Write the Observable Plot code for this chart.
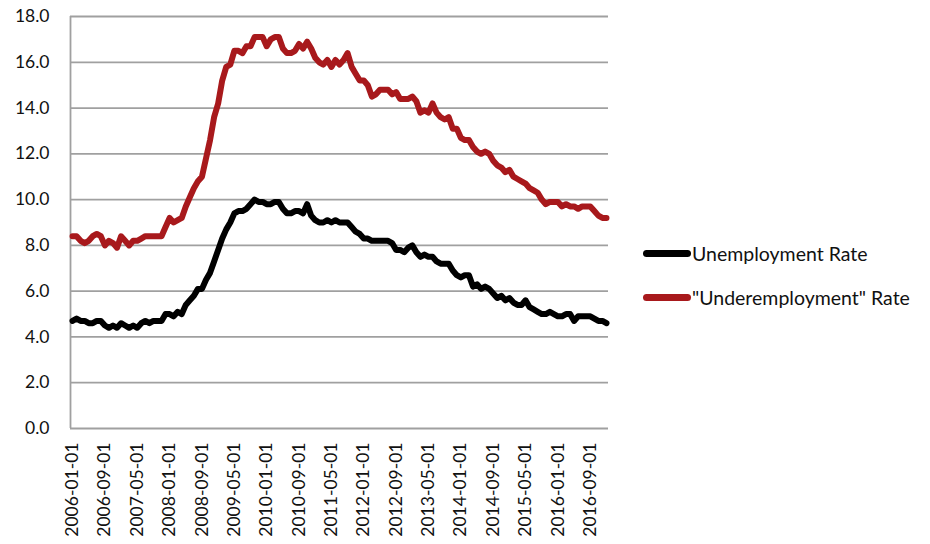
<!DOCTYPE html>
<html><head><meta charset="utf-8">
<script src="https://cdn.jsdelivr.net/npm/d3@7"></script>
<script src="https://cdn.jsdelivr.net/npm/@observablehq/plot@0.6"></script>
<style>
body{margin:0;background:#fff;font-family:Lato,sans-serif}
#wrap{position:relative;width:930px;height:544px}
.leg{position:absolute;left:643px;display:flex;align-items:center;font-size:19.5px;color:#111;font-family:Lato,sans-serif;white-space:nowrap}
.sw{width:48px;height:7px;border-radius:4px;margin-right:1px}
</style></head><body><div id="wrap"></div>
<script>
// Monthly, 2006-01 through 2017-01
const startYear = 2006;
const unemployment = [
 4.7,4.8,4.7,4.7,4.6,4.6,4.7,4.7,4.5,4.4,4.5,4.4,
 4.6,4.5,4.4,4.5,4.4,4.6,4.7,4.6,4.7,4.7,4.7,5.0,
 5.0,4.9,5.1,5.0,5.4,5.6,5.8,6.1,6.1,6.5,6.8,7.3,
 7.8,8.3,8.7,9.0,9.4,9.5,9.5,9.6,9.8,10.0,9.9,9.9,
 9.8,9.8,9.9,9.9,9.6,9.4,9.4,9.5,9.5,9.4,9.8,9.3,
 9.1,9.0,9.0,9.1,9.0,9.1,9.0,9.0,9.0,8.8,8.6,8.5,
 8.3,8.3,8.2,8.2,8.2,8.2,8.2,8.1,7.8,7.8,7.7,7.9,
 8.0,7.7,7.5,7.6,7.5,7.5,7.3,7.2,7.2,7.2,6.9,6.7,
 6.6,6.7,6.7,6.2,6.3,6.1,6.2,6.1,5.9,5.7,5.8,5.6,
 5.7,5.5,5.4,5.4,5.6,5.3,5.2,5.1,5.0,5.0,5.1,5.0,
 4.9,4.9,5.0,5.0,4.7,4.9,4.9,4.9,4.9,4.8,4.7,4.7,
 4.6
];
const underemployment = [
 8.4,8.4,8.2,8.1,8.2,8.4,8.5,8.4,8.0,8.2,8.1,7.9,
 8.4,8.2,8.0,8.2,8.2,8.3,8.4,8.4,8.4,8.4,8.4,8.8,
 9.2,9.0,9.1,9.2,9.7,10.1,10.5,10.8,11.0,11.8,12.6,13.6,
 14.2,15.2,15.8,15.9,16.5,16.5,16.4,16.7,16.7,17.1,17.1,17.1,
 16.7,17.0,17.1,17.1,16.6,16.4,16.4,16.5,16.8,16.6,16.9,16.6,
 16.2,16.0,15.9,16.1,15.8,16.1,15.9,16.1,16.4,15.8,15.5,15.2,
 15.2,15.0,14.5,14.6,14.8,14.8,14.8,14.6,14.7,14.4,14.4,14.4,
 14.5,14.3,13.8,13.9,13.8,14.2,13.8,13.6,13.5,13.6,13.1,13.1,
 12.7,12.6,12.6,12.3,12.1,12.0,12.1,12.0,11.7,11.5,11.4,11.2,
 11.3,11.0,10.9,10.8,10.7,10.5,10.4,10.3,10.0,9.8,9.9,9.9,
 9.9,9.7,9.8,9.7,9.7,9.6,9.7,9.7,9.7,9.5,9.3,9.2,
 9.2
];
const tickLabels = ["2006-01-01","2006-09-01","2007-05-01","2008-01-01","2008-09-01","2009-05-01",
 "2010-01-01","2010-09-01","2011-05-01","2012-01-01","2012-09-01","2013-05-01","2014-01-01",
 "2014-09-01","2015-05-01","2016-01-01","2016-09-01"];
const yTicks = [0,2,4,6,8,10,12,14,16,18];
const seriesNames = ["Unemployment Rate", "\"Underemployment\" Rate"];
const seriesColors = ["#000000", "#a8191c"];

const months = unemployment.map((_, i) => {
  const y = startYear + Math.floor(i / 12), m = (i % 12) + 1;
  return `${y}-${String(m).padStart(2,"0")}-01`;
});
const data = months.flatMap((d, i) => [
  {i, v: unemployment[i], s: seriesNames[0]},
  {i, v: underemployment[i], s: seriesNames[1]}
]);
const tickIdx = tickLabels.map(t => months.indexOf(t));

const chart = Plot.plot({
  width: 930, height: 544,
  marginLeft: 70, marginRight: 322, marginTop: 16, marginBottom: 116,
  style: {fontFamily: "Lato, sans-serif", fontSize: "17.5px", color: "#111", background: "#fff"},
  x: {type: "linear", domain: [-0.5, months.length - 0.5]},
  y: {domain: [0, 18]},
  color: {domain: seriesNames, range: seriesColors},
  marks: [
    Plot.ruleY(yTicks, {stroke: "#a0a0a0", strokeWidth: 1.8}),
    Plot.ruleX([-0.5], {y1: 0, y2: 18, stroke: "#a0a0a0", strokeWidth: 1.8}),
    Plot.axisY({ticks: yTicks, tickFormat: d => d.toFixed(1), tickSize: 0, tickPadding: 21, label: null}),
    Plot.axisX({ticks: tickIdx, tickFormat: i => months[i], tickRotate: -90, tickSize: 0, tickPadding: 14, label: null}),
    Plot.lineY(data, {x: "i", y: "v", z: "s", stroke: "s", strokeWidth: 6, strokeLinejoin: "round", strokeLinecap: "round"})
  ]
});
const wrap = document.getElementById("wrap");
wrap.appendChild(chart);
[[seriesNames[0], seriesColors[0], 253], [seriesNames[1], seriesColors[1], 297]].forEach(([name, col, y]) => {
  const d = document.createElement("div");
  d.className = "leg";
  d.style.top = (y - 12) + "px";
  d.style.height = "24px";
  d.innerHTML = `<span class="sw" style="background:${col}"></span><span></span>`;
  d.lastChild.textContent = name;
  wrap.appendChild(d);
});
</script>
</body></html>
